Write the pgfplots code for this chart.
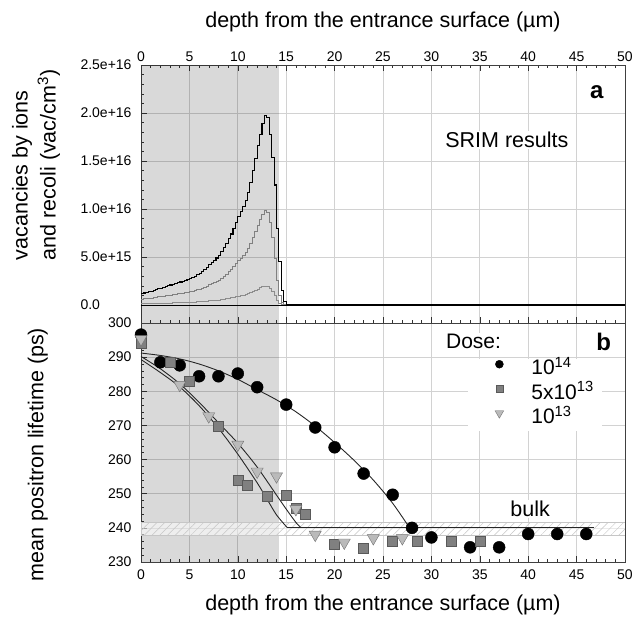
\documentclass[border=0pt]{standalone}
\usepackage{fontspec}
\setmainfont{Liberation Sans}
\usepackage{pgfplots}
\pgfplotsset{compat=1.18}
\usetikzlibrary{patterns.meta}

\pgfplotsset{
 common/.style={
  scale only axis, width=484pt, xmin=0, xmax=50,
  xtick={0,5,...,50}, minor x tick num=4,
  major tick length=6pt, minor tick length=3pt,
  tick style={black!80, line width=0.5pt},
  grid=major, major grid style={gray!35, line width=0.6pt},
  axis line style={black!75, line width=0.8pt},
  ytick pos=left,
  /pgf/number format/assume math mode=true,
  tick label style={font=\fontsize{14}{16}\selectfont},
  label style={font=\fontsize{21.5}{28}\selectfont},
 }
}

\begin{document}
\begin{tikzpicture}
\useasboundingbox (-141pt,-63pt) rectangle (497pt,562pt);

% ---------------- bottom panel (b) ----------------
\begin{axis}[common, at={(0pt,0pt)}, anchor=south west, height=239pt,
  ymin=230, ymax=300, ytick={230,240,...,300}, minor y tick num=4,
  xtick pos=left,
  xticklabel style={yshift=-4pt},
  yticklabel style={xshift=-6pt},
  xlabel={depth from the entrance surface (µm)},
  xlabel style={at={(axis description cs:0.5,-0.18)}, anchor=center},
  ylabel={mean positron lifetime (ps)},
  ylabel style={at={(axis description cs:-0.213,0.45)}, anchor=center},
  legend image code/.code={\path (0pt,0pt) -- (55pt,0pt); \draw[#1] plot coordinates {(25pt,6pt)};},
  legend style={at={(axis cs:33.8,289.6)}, anchor=north west, draw=none, fill=white,
    inner xsep=6pt, inner ysep=0pt, row sep=1.5pt,
    font=\fontsize{21}{24}\selectfont,
    nodes={inner sep=2pt, text height=14pt, text depth=5pt}},
  legend cell align=left,
]
\addplot[draw=none, fill=black, fill opacity=0.15, forget plot] coordinates {(0,230) (14.3,230) (14.3,300) (0,300)} -- cycle;
\addplot[draw=gray!45, line width=0.5pt, fill=white, fill opacity=0.55, forget plot] coordinates {(0,237.8) (50,237.8) (50,241.7) (0,241.7)} -- cycle;
\addplot[draw=none, pattern={Lines[angle=45, distance=5.5pt, line width=0.5pt]}, pattern color=gray!45, forget plot] coordinates {(0,237.8) (50,237.8) (50,241.7) (0,241.7)} -- cycle;

% fits
\addplot[black!85, line width=0.9pt, smooth, forget plot] coordinates {(0,291.2) (2,290.5) (4,289.5) (6,288.0) (8,286.0) (10,283.5) (12,280.5) (14,277.5) (16,274.0) (18,269.8) (20,265.0) (22,259.8) (24,254.0) (26,247.2) (27.7,240.2)};
\addplot[black!85, line width=0.9pt, smooth, forget plot] coordinates {(0,289.3) (2,285.5) (4,281.3) (6,275.8) (8,269.2) (10,261.6) (12,253.2) (13,248.5) (14,243.8) (15.1,240.1)};
\addplot[black!85, line width=0.9pt, smooth, forget plot] coordinates {(0,290.2) (2,286.6) (4,282.2) (6,276.8) (8,270.8) (10,264.8) (12,257.8) (14,249.6) (15,245.5) (16,241.6) (16.5,240.1)};
\addplot[black!85, line width=1.1pt, forget plot] coordinates {(15.1,240.1) (46.8,240.1)};

% data
\addplot[only marks, mark=*, mark size=6pt, mark options={fill=black, draw=black}, forget plot] coordinates {
(0,296.6) (2,288.5) (4,287.6) (6,284.4) (8,284.4) (10,285.2) (12,281.2) (15,276.1) (18,269.4) (20,263.6) (23,255.9) (26,249.7) (28,240.0) (30,237.2) (34,234.3) (37,234.3) (40,238.2) (43,238.2) (46,238.2)};
\addplot[only marks, mark=square*, mark size=5pt, mark options={fill=black!50, draw=black!65}, forget plot] coordinates {
(0,294.1) (3,288.5) (5,282.9) (8,269.7) (10,254.1) (11,252.6) (13,249.4) (15,249.7) (16,245.8) (17,244.0) (20,235.3) (23,234.1) (26,236.2) (28.5,236.2) (32,236.2) (35,236.2)};
\addplot[only marks, mark=triangle*, mark size=7pt, mark options={rotate=180, fill=black!27, draw=black!55}, forget plot] coordinates {
(0,295.3) (4,281.9) (7,272.7) (10,264.4) (12,256.5) (14,255.1) (16,245.5) (18,238.0) (21,235.7) (24,237.0) (27,237.0)};

\node[fill=white, inner sep=1pt, font=\fontsize{21.5}{26}\selectfont] at (axis cs:40.2,245.5) {bulk};
\node[fill=white, inner sep=1pt, anchor=west, font=\fontsize{21}{26}\selectfont] at (axis cs:31.4,294.6) {Dose:};
\node[font=\fontsize{24}{28}\selectfont\bfseries] at (axis cs:47.8,294.6) {b};

\addlegendimage{draw=none, mark=*, mark size=4pt, mark options={fill=black, draw=black}}
\addlegendentry{10\textsuperscript{14}}
\addlegendimage{draw=none, mark=square*, mark size=3.5pt, mark options={fill=black!50, draw=black!65}}
\addlegendentry{5x10\textsuperscript{13}}
\addlegendimage{draw=none, mark=triangle*, mark size=5pt, mark options={rotate=180, fill=black!27, draw=black!55}}
\addlegendentry{10\textsuperscript{13}}
\end{axis}

% ---------------- top panel (a) ----------------
\begin{axis}[common, at={(0pt,239pt)}, anchor=south west, height=258pt,
  ymin=-1.875e15, ymax=2.5e16,
  ytick={0,5e15,1e16,1.5e16,2e16,2.5e16},
  yticklabels={0.0,5.0e+15,1.0e+16,1.5e+16,2.0e+16,2.5e+16},
  yticklabel style={anchor=west, xshift=-64pt},
  minor ytick={1e15,2e15,3e15,4e15,6e15,7e15,8e15,9e15,1.1e16,1.2e16,1.3e16,1.4e16,1.6e16,1.7e16,1.8e16,1.9e16,2.1e16,2.2e16,2.3e16,2.4e16},
  scaled y ticks=false,
  xtick pos=both, xticklabel pos=right,
  xlabel={depth from the entrance surface (µm)},
  xlabel style={at={(axis description cs:0.5,1.167)}, anchor=center},
  ylabel={vacancies by ions\\and recoli (vac/cm\textsuperscript{3})},
  ylabel style={at={(axis description cs:-0.217,0.613)}, anchor=center, align=left},
]
\addplot[draw=none, fill=black, fill opacity=0.15] coordinates {(0,-1.875e15) (14.3,-1.875e15) (14.3,2.5e16) (0,2.5e16)} -- cycle;
\addplot[black, line width=0.9pt] coordinates {(0,0) (50,0)};

% 1e13
\addplot[const plot, black!45, line width=1pt] coordinates {
(0,0.0120e16) (0.25,0.0125e16) (0.5,0.0130e16) (0.75,0.0138e16) (1,0.0145e16) (1.25,0.0152e16) (1.5,0.0160e16) (1.75,0.0168e16)
(2,0.0176e16) (2.25,0.0184e16) (2.5,0.0192e16) (2.75,0.0200e16) (3,0.0208e16) (3.25,0.0216e16) (3.5,0.0224e16) (3.75,0.0232e16)
(4,0.0240e16) (4.25,0.0248e16) (4.5,0.0256e16) (4.75,0.0264e16) (5,0.0272e16) (5.25,0.0286e16) (5.5,0.0300e16) (5.75,0.0315e16)
(6,0.0330e16) (6.25,0.0350e16) (6.5,0.0370e16) (6.75,0.0395e16) (7,0.0420e16) (7.25,0.0440e16) (7.5,0.0460e16) (7.75,0.0490e16)
(8,0.0520e16) (8.25,0.0560e16) (8.5,0.0600e16) (8.75,0.0645e16) (9,0.0690e16) (9.25,0.0740e16) (9.5,0.0800e16) (9.75,0.0860e16)
(10,0.0920e16) (10.25,0.0970e16) (10.5,0.1030e16) (10.75,0.1090e16) (11,0.1170e16) (11.25,0.1280e16) (11.5,0.1400e16) (11.75,0.1530e16)
(12,0.1660e16) (12.25,0.1780e16) (12.5,0.1890e16) (12.75,0.1975e16) (13,0.1950e16) (13.25,0.1750e16) (13.5,0.1400e16) (13.75,0.0950e16)
(14,0.0500e16) (14.25,0.0200e16) (14.5,0.0060e16) (14.75,0.0020e16) (15,0) (50,0)};
% 5e13
\addplot[const plot, black!50, line width=1pt] coordinates {
(0,0.0600e16) (0.25,0.0625e16) (0.5,0.0650e16) (0.75,0.0690e16) (1,0.0725e16) (1.25,0.0760e16) (1.5,0.0800e16) (1.75,0.0840e16)
(2,0.0880e16) (2.25,0.0920e16) (2.5,0.0960e16) (2.75,0.1000e16) (3,0.1040e16) (3.25,0.1080e16) (3.5,0.1120e16) (3.75,0.1160e16)
(4,0.1200e16) (4.25,0.1240e16) (4.5,0.1280e16) (4.75,0.1320e16) (5,0.1360e16) (5.25,0.1430e16) (5.5,0.1500e16) (5.75,0.1575e16)
(6,0.1650e16) (6.25,0.1750e16) (6.5,0.1850e16) (6.75,0.1975e16) (7,0.2100e16) (7.25,0.2200e16) (7.5,0.2300e16) (7.75,0.2450e16)
(8,0.2600e16) (8.25,0.2800e16) (8.5,0.3000e16) (8.75,0.3225e16) (9,0.3450e16) (9.25,0.3700e16) (9.5,0.4000e16) (9.75,0.4300e16)
(10,0.4600e16) (10.25,0.4850e16) (10.5,0.5150e16) (10.75,0.5450e16) (11,0.5850e16) (11.25,0.6400e16) (11.5,0.7000e16) (11.75,0.7650e16)
(12,0.8300e16) (12.25,0.8900e16) (12.5,0.9450e16) (12.75,0.9850e16) (13,0.9600e16) (13.25,0.8600e16) (13.5,0.7000e16) (13.75,0.4800e16)
(14,0.2600e16) (14.25,0.1000e16) (14.5,0.0300e16) (14.75,0.0100e16) (15,0) (50,0)};
% 1e14
\addplot[const plot, black, line width=1.1pt] coordinates {
(0,0.120e16) (0.25,0.125e16) (0.5,0.130e16) (0.75,0.138e16) (1,0.145e16) (1.25,0.152e16) (1.5,0.160e16) (1.75,0.168e16)
(2,0.176e16) (2.25,0.184e16) (2.5,0.192e16) (2.75,0.200e16) (3,0.208e16) (3.25,0.216e16) (3.5,0.224e16) (3.75,0.232e16)
(4,0.240e16) (4.25,0.248e16) (4.5,0.256e16) (4.75,0.264e16) (5,0.272e16) (5.25,0.286e16) (5.5,0.300e16) (5.75,0.315e16)
(6,0.330e16) (6.25,0.350e16) (6.5,0.370e16) (6.75,0.395e16) (7,0.420e16) (7.25,0.440e16) (7.5,0.460e16) (7.75,0.490e16)
(8,0.520e16) (8.25,0.560e16) (8.5,0.600e16) (8.75,0.645e16) (9,0.690e16) (9.25,0.740e16) (9.5,0.800e16) (9.75,0.860e16)
(10,0.920e16) (10.25,0.970e16) (10.5,1.030e16) (10.75,1.090e16) (11,1.170e16) (11.25,1.280e16) (11.5,1.400e16) (11.75,1.530e16)
(12,1.660e16) (12.25,1.780e16) (12.5,1.890e16) (12.75,1.975e16) (13,1.950e16) (13.25,1.780e16) (13.5,1.540e16) (13.75,1.250e16)
(14,0.800e16) (14.25,0.450e16) (14.5,0.150e16) (14.75,0.040e16) (15,0) (50,0)};

\node[fill=white, inner sep=1pt, font=\fontsize{21.5}{26}\selectfont] at (axis cs:37.8,1.72e16) {SRIM results};
\node[font=\fontsize{24}{28}\selectfont\bfseries] at (axis cs:47.1,2.22e16) {a};
\end{axis}
\end{tikzpicture}
\end{document}
